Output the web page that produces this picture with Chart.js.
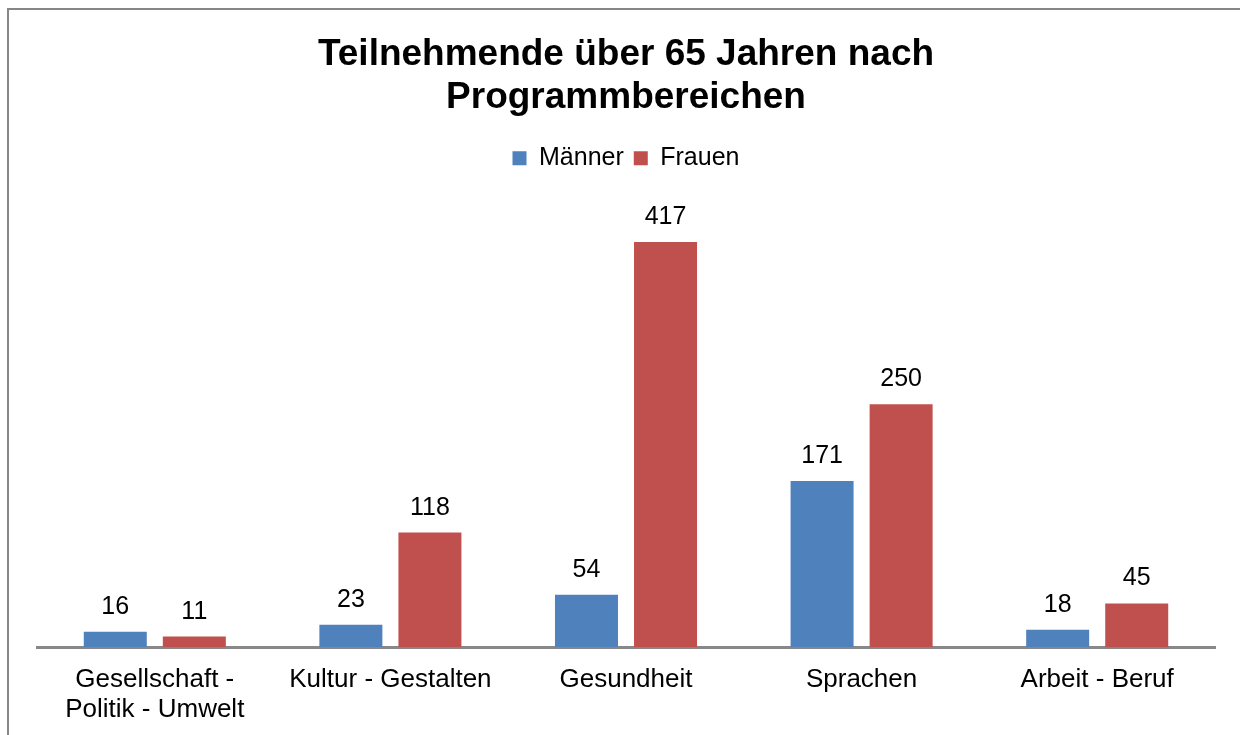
<!DOCTYPE html>
<html lang="de">
<head>
<meta charset="utf-8">
<title>Teilnehmende über 65 Jahren nach Programmbereichen</title>
<script src="https://cdn.jsdelivr.net/npm/chart.js@4.4.1/dist/chart.umd.min.js"></script>
<style>
  html, body { margin: 0; padding: 0; background: #fff; overflow: hidden; }
  #frame {
    position: absolute; left: 7px; top: 8px; width: 1300px; height: 800px;
    border-left: 2px solid #868686; border-top: 2px solid #868686;
  }
  #chart { position: absolute; left: 0; top: 0; }
</style>
</head>
<body>
<div id="frame"></div>
<canvas id="chart" width="1240" height="745"></canvas>
<script>
const categories = [
  ['Gesellschaft -', 'Politik - Umwelt'],
  'Kultur - Gestalten',
  'Gesundheit',
  'Sprachen',
  'Arbeit - Beruf'
];
const maenner = [16, 23, 54, 171, 18];
const frauen = [11, 118, 417, 250, 45];

const FONT = "'Liberation Sans', Arial, sans-serif";

// writes each bar's value above it
const valueLabels = {
  id: 'valueLabels',
  afterDatasetsDraw(chart) {
    const ctx = chart.ctx;
    ctx.save();
    ctx.font = '25px ' + FONT;
    ctx.fillStyle = '#000';
    ctx.textAlign = 'center';
    ctx.textBaseline = 'alphabetic';
    chart.data.datasets.forEach((ds, i) => {
      chart.getDatasetMeta(i).data.forEach((bar, j) => {
        ctx.fillText(ds.data[j], bar.x, bar.y - 18);
      });
    });
    ctx.restore();
  }
};

new Chart(document.getElementById('chart').getContext('2d'), {
  type: 'bar',
  data: {
    labels: categories,
    datasets: [{
      label: 'Männer',
      data: maenner,
      backgroundColor: '#4F81BD'
    }, {
      label: 'Frauen',
      data: frauen,
      backgroundColor: '#C0504D'
    }]
  },
  options: {
    responsive: false,
    animation: false,
    categoryPercentage: 0.671,
    barPercentage: 0.797,
    layout: {
      padding: { left: 37, right: 25, top: 0, bottom: 2 }
    },
    plugins: {
      title: {
        display: true,
        text: ['Teilnehmende über 65 Jahren nach', 'Programmbereichen'],
        color: '#000',
        font: { family: FONT, size: 37, weight: 'bold', lineHeight: 1.16 },
        padding: { top: 33, bottom: 17 }
      },
      legend: {
        display: true,
        labels: {
          color: '#000',
          font: { family: FONT, size: 25 },
          boxWidth: 14,
          boxHeight: 14,
          padding: 10
        }
      },
      tooltip: { enabled: false }
    },
    scales: {
      x: {
        grid: { display: false, drawTicks: false },
        border: { display: true, color: '#888888', width: 3 },
        ticks: {
          color: '#000',
          font: { family: FONT, size: 26, lineHeight: 1.15 },
          padding: 18,
          maxRotation: 0,
          autoSkip: false
        }
      },
      y: {
        display: false,
        min: 0,
        max: 480
      }
    }
  },
  plugins: [valueLabels]
});
</script>
</body>
</html>
